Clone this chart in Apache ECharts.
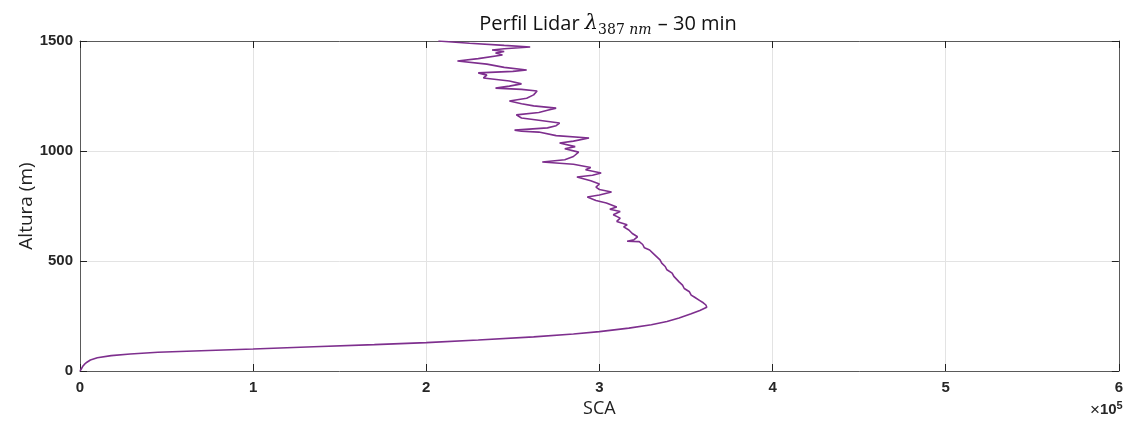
<!DOCTYPE html>
<html>
<head>
<meta charset="utf-8">
<script src="https://cdn.jsdelivr.net/npm/echarts@6/dist/echarts.min.js"></script>
<style>html,body{margin:0;padding:0;background:#fff}#c{width:1126px;height:423px}</style>
</head>
<body>
<div id="c"></div>
<script>
// Altitude (m)
const altura = [0,5,10,20,30,40,50,60,70,77,85,92,100,110,120,129,141,155,168,179,195,210,225,241,260,275,290,300,310,320,335,345,360,375,390,405,414,430,445,460,475,490,505,520,535,550,560,575,588,590,597,610,625,641,655,665,680,695,710,725,735,745,764,775,791,800,814,825,836,850,865,882,890,900,915,925,940,950,960,975,995,1010,1020,1036,1045,1059,1070,1086,1090,1095,1105,1115,1127,1140,1150,1164,1175,1185,1195,1205,1215,1227,1240,1255,1273,1280,1286,1295,1305,1318,1332,1345,1355,1362,1368,1380,1395,1409,1420,1436,1445,1452,1459,1465,1473,1480,1490,1500];
// SCA (x 1e5)
const sca = [0.00,0.003,0.008,0.015,0.025,0.04,0.06,0.10,0.18,0.29,0.45,0.70,1.00,1.35,1.70,2.00,2.30,2.62,2.85,3.00,3.17,3.30,3.39,3.46,3.53,3.58,3.62,3.615,3.60,3.58,3.55,3.53,3.52,3.49,3.48,3.46,3.46,3.43,3.42,3.39,3.38,3.36,3.35,3.33,3.31,3.29,3.26,3.25,3.23,3.16,3.20,3.22,3.19,3.17,3.14,3.16,3.10,3.12,3.08,3.12,3.06,3.10,3.04,2.98,2.93,3.00,3.07,3.00,2.98,3.00,2.95,2.87,2.96,3.01,2.92,2.95,2.85,2.67,2.80,2.85,2.88,2.80,2.86,2.77,2.85,2.94,2.75,2.65,2.55,2.51,2.70,2.75,2.77,2.65,2.55,2.52,2.65,2.70,2.75,2.62,2.55,2.48,2.58,2.62,2.64,2.55,2.40,2.48,2.55,2.48,2.33,2.35,2.30,2.50,2.58,2.45,2.35,2.18,2.30,2.44,2.40,2.45,2.38,2.45,2.60,2.45,2.25,2.07];
const xTicks = [0,1,2,3,4,5,6];
const yTicks = [0,500,1000,1500];

const chart = echarts.init(document.getElementById('c'));
const lbl = {fontFamily:'Liberation Sans', fontWeight:'bold', fontSize:15, color:'#262626'};
const axCol = '#5a5a5a';
const baseX = {type:'value', min:0, max:6, interval:1,
  axisLine:{show:true,onZero:false,lineStyle:{color:axCol,width:1}},
  axisTick:{show:true,inside:true,length:7,lineStyle:{color:'#222'}},
  splitLine:{show:false}};
const baseY = {type:'value', min:0, max:1500, interval:500,
  axisLine:{show:true,onZero:false,lineStyle:{color:axCol,width:1}},
  axisTick:{show:true,inside:true,length:7,lineStyle:{color:'#222'}},
  splitLine:{show:false}};
chart.setOption({
  animation:false,
  title:{
    text:'Perfil Lidar {l|λ}{s|387 }{si|nm} – 30 min',
    left:603, top:6, textAlign:'center',
    textStyle:{fontFamily:'Open Sans', fontSize:20, fontWeight:'normal', color:'#111', lineHeight:26,
      rich:{
        l:{fontFamily:'DejaVu Serif', fontStyle:'italic', fontSize:21, color:'#111', lineHeight:26},
        s:{fontFamily:'DejaVu Serif', fontSize:14, color:'#111', verticalAlign:'bottom', lineHeight:16, padding:[10,0,0,0]},
        si:{fontFamily:'DejaVu Serif', fontStyle:'italic', fontSize:14, color:'#111', verticalAlign:'bottom', lineHeight:16, padding:[10,1,0,0]}
      }}
  },
  grid:{left:80, right:6, top:41, bottom:52, show:false},
  xAxis:[
    Object.assign({}, baseX, {position:'bottom',
      axisLabel:Object.assign({show:true, margin:9, formatter:v=>xTicks.includes(v)?String(v):''}, lbl),
      splitLine:{show:true,lineStyle:{color:'#e3e3e3',width:1}},
      name:'SCA', nameLocation:'middle', nameGap:28,
      nameTextStyle:{fontFamily:'Open Sans', fontSize:18, color:'#222'}}),
    Object.assign({}, baseX, {position:'top', axisLabel:{show:false}})
  ],
  yAxis:[
    Object.assign({}, baseY, {position:'left',
      axisLabel:Object.assign({show:true, margin:7, formatter:v=>yTicks.includes(v)?String(v):''}, lbl),
      splitLine:{show:true,lineStyle:{color:'#e3e3e3',width:1}},
      name:'Altura (m)', nameLocation:'middle', nameGap:44, nameRotate:90, nameMoveOverlap:false,
      nameTextStyle:{fontFamily:'Open Sans', fontSize:19, color:'#222'}}),
    Object.assign({}, baseY, {position:'right', axisLabel:{show:false}})
  ],
  graphic:[{
    type:'text', left:1090, top:400,
    style:{text:'×{b|10}{sup|5}', fontFamily:'Liberation Sans', fontSize:17, fontWeight:'normal', fill:'#262626',
      rich:{b:{fontFamily:'Liberation Sans', fontSize:15, fontWeight:'bold'},
            sup:{fontFamily:'Liberation Sans', fontSize:11, fontWeight:'bold', verticalAlign:'top', padding:[0,0,9,0]}}}
  }],
  series:[{
    type:'line', xAxisIndex:0, yAxisIndex:0,
    data: altura.map((a,i)=>[sca[i], a]),
    showSymbol:false, smooth:false,
    lineStyle:{color:'#7e2f8e', width:1.6}
  }]
});
</script>
</body>
</html>
